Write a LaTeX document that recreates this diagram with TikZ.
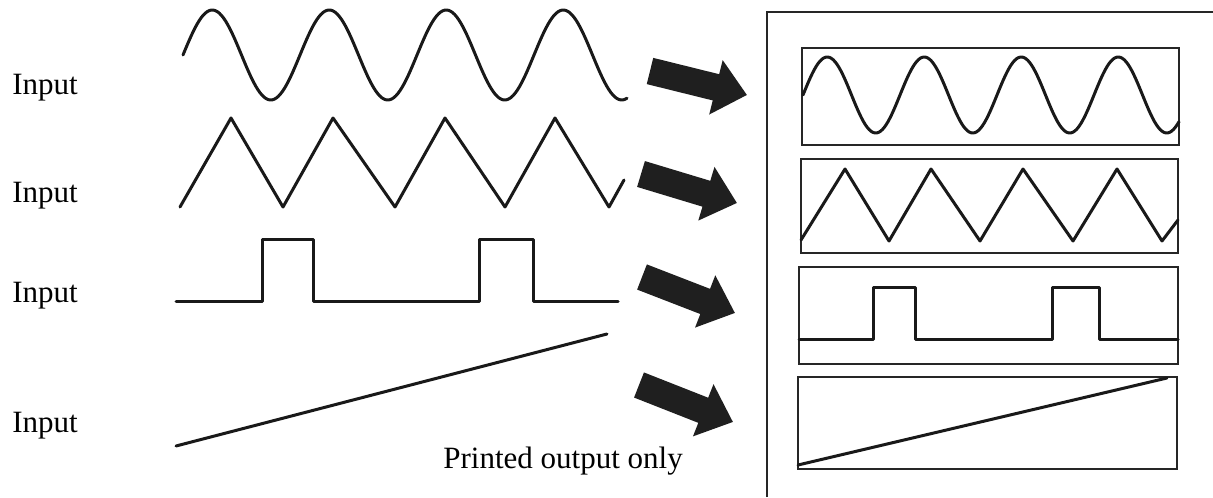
\documentclass[tikz,border=0pt]{standalone}
\usepackage{fontspec}
\setmainfont{Liberation Serif}
\usetikzlibrary{arrows.meta}
\tikzset{
  wave/.style={line width=1.5pt, line join=round, line cap=round, black!90},
  frame/.style={line width=1pt, black!85},
  outerframe/.style={line width=0.9pt, black!85},
  bigarrow/.style={line width=13.5pt, black!88, -{Triangle[length=16pt,width=27pt]}},
  lbl/.style={anchor=base west, inner sep=0pt, font=\fontsize{15.5pt}{18pt}\selectfont}
}
\begin{document}
\begin{tikzpicture}[x=0.5pt,y=-0.5pt]
\useasboundingbox (0,0) rectangle (1213,497);
% labels
\node[lbl] (in1) at (12,95) {Input};
\node[lbl] (in2) at (12,203) {Input};
\node[lbl] (in3) at (12,302) {Input};
\node[lbl] (in4) at (12,432) {Input};
\node[lbl] (po) at (443,468) {Printed output only};
% input waves
\draw[wave, domain=183:627, samples=220] plot (\x, {55-45*sin(3.0769*(\x-183))});
\draw[wave] (180,207) -- (231,118) -- (283,207) -- (333,118) -- (395,207) -- (445,118) -- (505,207) -- (555,118) -- (609,207) -- (624,180);
\draw[wave] (176,301) -- (262,301) -- (262,239) -- (313,239) -- (313,301) -- (479,301) -- (479,239) -- (533,239) -- (533,301) -- (618,301);
\draw[wave] (176,446) -- (607,334);
% arrows
\coordinate (t1) at (650,71);  \coordinate (h1) at (747,95);
\coordinate (t2) at (641,174); \coordinate (h2) at (737,203);
\coordinate (t3) at (642,277); \coordinate (h3) at (735,313);
\coordinate (t4) at (639,385); \coordinate (h4) at (733,422);
\draw[bigarrow] (t1) -- (h1);
\draw[bigarrow] (t2) -- (h2);
\draw[bigarrow] (t3) -- (h3);
\draw[bigarrow] (t4) -- (h4);
% outer frame
\draw[outerframe] (767,497) -- (767,12) -- (1213,12);
% inner frames
\draw[frame] (802,48) rectangle (1179,145);
\draw[frame] (801,159) rectangle (1178,253);
\draw[frame] (799,267) rectangle (1178,364);
\draw[frame] (798,377) rectangle (1177,469);
% output waves
\draw[wave, domain=803:1179, samples=200] plot (\x, {95-38*sin(3.7113*(\x-803))});
\draw[wave] (801,240) -- (845,169) -- (889,241) -- (931,169) -- (980,241) -- (1023,169) -- (1073,241) -- (1117,169) -- (1162,241) -- (1178,220);
\draw[wave] (799,339) -- (873,339) -- (873,287) -- (915,287) -- (915,339) -- (1052,339) -- (1052,287) -- (1099,287) -- (1099,339) -- (1178,339);
\draw[wave] (798,465) -- (1167,378);
\end{tikzpicture}
\end{document}
